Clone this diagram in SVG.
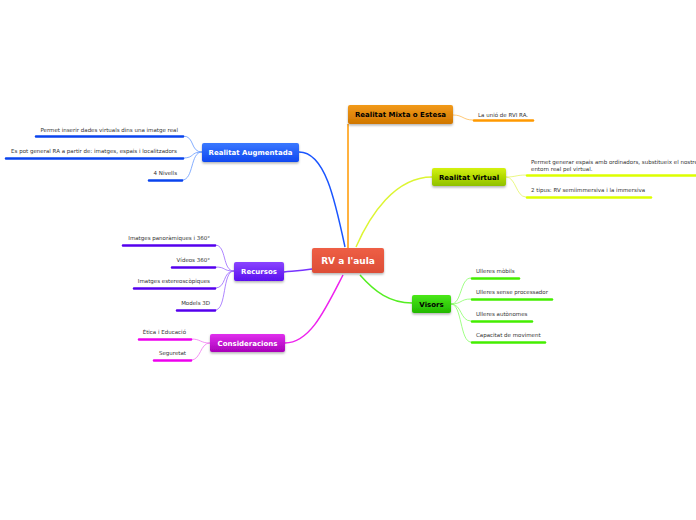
<svg xmlns="http://www.w3.org/2000/svg" width="696" height="520" viewBox="0 0 696 520">
<defs>
<linearGradient id="gC" x1="0" y1="0" x2="0" y2="1"><stop offset="0" stop-color="#ee5e45"/><stop offset="1" stop-color="#dd4e37"/></linearGradient>
<linearGradient id="gO" x1="0" y1="0" x2="0" y2="1"><stop offset="0" stop-color="#f29a1a"/><stop offset="1" stop-color="#d07600"/></linearGradient>
<linearGradient id="gY" x1="0" y1="0" x2="0" y2="1"><stop offset="0" stop-color="#d4f20a"/><stop offset="1" stop-color="#8fc000"/></linearGradient>
<linearGradient id="gB" x1="0" y1="0" x2="0" y2="1"><stop offset="0" stop-color="#3a78ff"/><stop offset="1" stop-color="#0f48f0"/></linearGradient>
<linearGradient id="gP" x1="0" y1="0" x2="0" y2="1"><stop offset="0" stop-color="#8a44ff"/><stop offset="1" stop-color="#5a10ee"/></linearGradient>
<linearGradient id="gM" x1="0" y1="0" x2="0" y2="1"><stop offset="0" stop-color="#e030ee"/><stop offset="1" stop-color="#a800b8"/></linearGradient>
<linearGradient id="gG" x1="0" y1="0" x2="0" y2="1"><stop offset="0" stop-color="#4ae81a"/><stop offset="1" stop-color="#22b800"/></linearGradient>
<filter id="sh" x="-20%" y="-30%" width="140%" height="170%"><feDropShadow dx="0" dy="1.5" stdDeviation="1" flood-color="#000" flood-opacity="0.3"/></filter>
</defs>
<style>
.box{filter:url(#sh)}
.nt{font-family:"DejaVu Sans",Verdana,sans-serif;font-weight:bold;font-size:7px;text-anchor:middle}
.ct{font-family:"DejaVu Sans",Verdana,sans-serif;font-weight:bold;font-size:9px;text-anchor:middle;fill:#fff}
.lt{font-family:"DejaVu Sans",Verdana,sans-serif;font-size:5.5px;fill:#333}
.r{text-anchor:end}
.ul{stroke-width:2.5;fill:none;stroke-linecap:round}
.mc{fill:none;stroke-width:1.5}
.lc{fill:none;stroke-width:0.8}
</style>
<rect width="696" height="520" fill="#fff"/>
<g id="connectors">
<path class="mc" stroke="#1a55ff" d="M299,152 C325,152 335,200 345,247"/>
<path class="mc" stroke="#ff9900" d="M348,124 L348,248"/>
<path class="mc" stroke="#ddf533" d="M432,177 C395,177 370,215 356,247"/>
<path class="mc" stroke="#7733ff" d="M312,269 C300,271 295,271 284,272"/>
<path class="mc" stroke="#ee22ee" d="M343,275 C325,310 310,343 285,343"/>
<path class="mc" stroke="#55ee22" d="M360,275 C375,292 390,303 412,303"/>
<path class="lc" stroke="#6699ff" d="M202,152 C190,152 195,136 183,136"/>
<path class="lc" stroke="#6699ff" d="M202,152 C190,152 195,158 183,158"/>
<path class="lc" stroke="#6699ff" d="M202,152 C190,152 194,180 182,180"/>
<path class="lc" stroke="#ffbb55" d="M453,115 C463,115 463,120 473,120"/>
<path class="lc" stroke="#e5f566" d="M506,177 C516,177 516,175 526,175"/>
<path class="lc" stroke="#e5f566" d="M506,177 C516,177 516,197 526,197"/>
<path class="lc" stroke="#9966ff" d="M234,271 C222,271 227,245 215,245"/>
<path class="lc" stroke="#9966ff" d="M234,271 C222,271 227,267 215,267"/>
<path class="lc" stroke="#9966ff" d="M234,271 C222,271 227,288 215,288"/>
<path class="lc" stroke="#9966ff" d="M234,271 C222,271 227,310 215,310"/>
<path class="lc" stroke="#f077f0" d="M210,343 C200,343 201,339 191,339"/>
<path class="lc" stroke="#f077f0" d="M210,343 C200,343 201,360 191,360"/>
<path class="lc" stroke="#88ff66" d="M451,304 C462,304 460,278 471,278"/>
<path class="lc" stroke="#88ff66" d="M451,304 C462,304 460,299 471,299"/>
<path class="lc" stroke="#88ff66" d="M451,304 C462,304 460,321 471,321"/>
<path class="lc" stroke="#88ff66" d="M451,304 C462,304 460,342 471,342"/>
</g>
<g id="central">
<rect class="box" x="312" y="248" width="72" height="25" rx="2" fill="url(#gC)"/>
<text class="ct" x="348" y="264">RV a l'aula</text>
</g>
<g id="mixta">
<rect class="box" x="348" y="105" width="105" height="19" rx="2" fill="url(#gO)"/>
<text class="nt" x="400.5" y="117">Realitat Mixta o Estesa</text>
</g>
<g id="mixta-1">
<text class="lt" x="478" y="117">La unió de RVI RA.</text>
<line class="ul" stroke="#ff9900" x1="474" y1="120.5" x2="533" y2="120.5"/>
</g>
<g id="virtual">
<rect class="box" x="432" y="168" width="74" height="18" rx="2" fill="url(#gY)"/>
<text class="nt" x="469" y="180">Realitat Virtual</text>
</g>
<g id="virtual-1">
<text class="lt" x="531" y="164">Permet generar espais amb ordinadors, substitueix el nostre</text>
<text class="lt" x="531" y="171">entorn real pel virtual.</text>
<line class="ul" stroke="#ddff00" x1="527" y1="175.5" x2="697" y2="175.5"/>
</g>
<g id="virtual-2">
<text class="lt" x="531" y="192">2 tipus: RV semiimmersiva i la immersiva</text>
<line class="ul" stroke="#ddff00" x1="527" y1="197.5" x2="651" y2="197.5"/>
</g>
<g id="augmentada">
<rect class="box" x="202" y="143" width="97" height="19" rx="2" fill="url(#gB)"/>
<text class="nt" x="250.5" y="155" fill="#fff">Realitat Augmentada</text>
</g>
<g id="aug-1">
<text class="lt r" x="178" y="132">Permet inserir dades virtuals dins una imatge real</text>
<line class="ul" stroke="#0a44ee" x1="36" y1="136.5" x2="183" y2="136.5"/>
</g>
<g id="aug-2">
<text class="lt r" x="177" y="153">Es pot general RA a partir de: imatges, espais i localitzadors</text>
<line class="ul" stroke="#0a44ee" x1="6" y1="158.5" x2="183" y2="158.5"/>
</g>
<g id="aug-3">
<text class="lt r" x="177" y="175">4 Nivells</text>
<line class="ul" stroke="#0a44ee" x1="149" y1="180.5" x2="182" y2="180.5"/>
</g>
<g id="recursos">
<rect class="box" x="234" y="262" width="50" height="19" rx="2" fill="url(#gP)"/>
<text class="nt" x="259" y="274" fill="#fff">Recursos</text>
</g>
<g id="rec-1">
<text class="lt r" x="210" y="240">Imatges panoràmiques i 360°</text>
<line class="ul" stroke="#5500ee" x1="123" y1="245.5" x2="215" y2="245.5"/>
</g>
<g id="rec-2">
<text class="lt r" x="210" y="262">Vídeos 360°</text>
<line class="ul" stroke="#5500ee" x1="172" y1="267.5" x2="215" y2="267.5"/>
</g>
<g id="rec-3">
<text class="lt r" x="210" y="283">Imatges estereoscòpiques</text>
<line class="ul" stroke="#5500ee" x1="134" y1="288.5" x2="215" y2="288.5"/>
</g>
<g id="rec-4">
<text class="lt r" x="210" y="305">Models 3D</text>
<line class="ul" stroke="#5500ee" x1="177" y1="310.5" x2="215" y2="310.5"/>
</g>
<g id="consideracions">
<rect class="box" x="210" y="334" width="75" height="18" rx="2" fill="url(#gM)"/>
<text class="nt" x="247.5" y="346" fill="#fff">Consideracions</text>
</g>
<g id="con-1">
<text class="lt r" x="186" y="334">Ètica i Educació</text>
<line class="ul" stroke="#ee00ee" x1="139" y1="339.5" x2="191" y2="339.5"/>
</g>
<g id="con-2">
<text class="lt r" x="186" y="355">Seguretat</text>
<line class="ul" stroke="#ee00ee" x1="154" y1="360.5" x2="191" y2="360.5"/>
</g>
<g id="visors">
<rect class="box" x="412" y="295" width="39" height="18" rx="2" fill="url(#gG)"/>
<text class="nt" x="431.5" y="307">Visors</text>
</g>
<g id="vis-1">
<text class="lt" x="476" y="273">Ulleres mòbils</text>
<line class="ul" stroke="#44ee00" x1="472" y1="278.5" x2="519" y2="278.5"/>
</g>
<g id="vis-2">
<text class="lt" x="476" y="294">Ulleres sense processador</text>
<line class="ul" stroke="#44ee00" x1="472" y1="299.5" x2="552" y2="299.5"/>
</g>
<g id="vis-3">
<text class="lt" x="476" y="316">Ulleres autònomes</text>
<line class="ul" stroke="#44ee00" x1="472" y1="321.5" x2="532" y2="321.5"/>
</g>
<g id="vis-4">
<text class="lt" x="476" y="337">Capacitat de moviment</text>
<line class="ul" stroke="#44ee00" x1="472" y1="342.5" x2="545" y2="342.5"/>
</g>
</svg>
